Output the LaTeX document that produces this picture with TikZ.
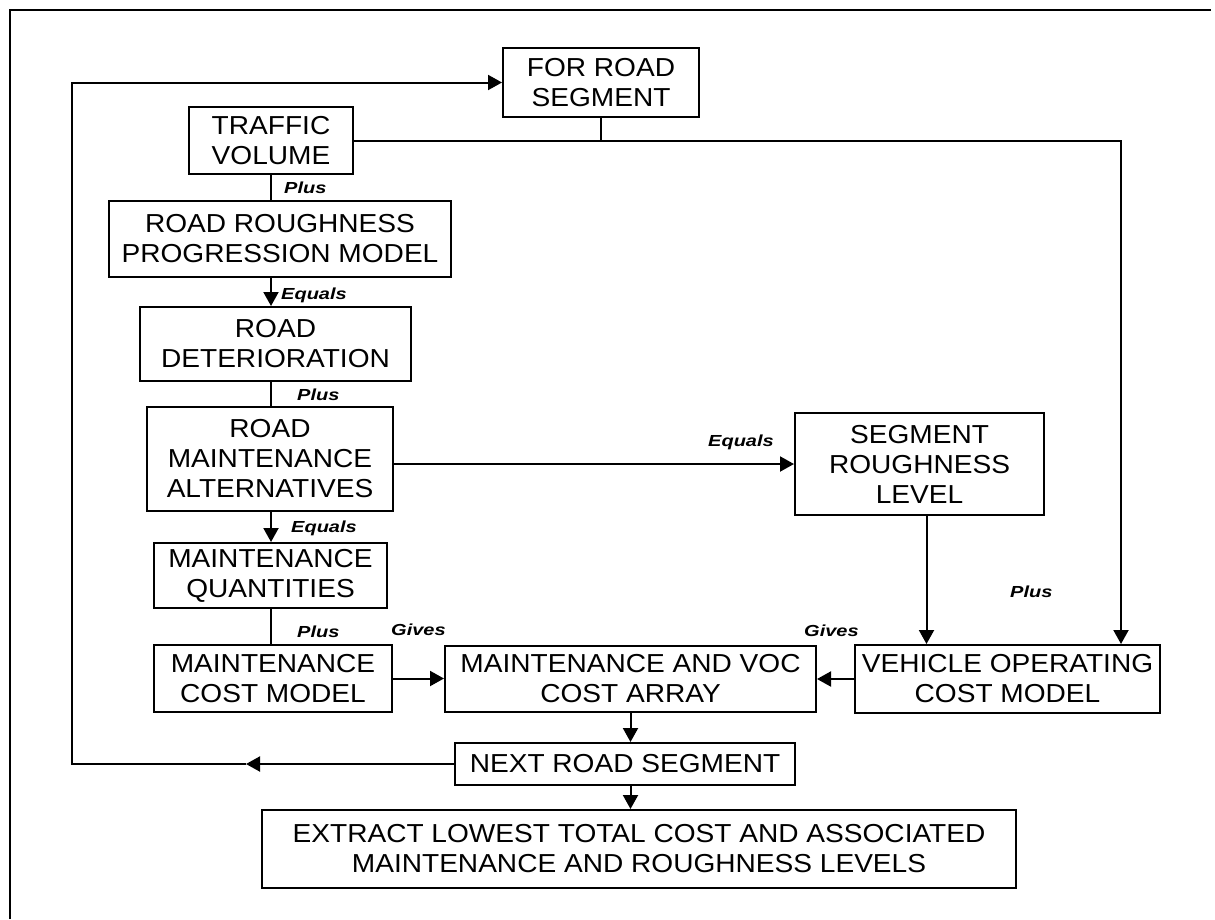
\documentclass[tikz,border=0pt]{standalone}
\usepackage{fontspec}
\setmainfont{Liberation Sans}[FakeStretch=1.08]
\newfontfamily\lblfont{Liberation Sans}[FakeStretch=1.25]
\usetikzlibrary{arrows.meta, positioning, calc}

\tikzset{
  stage/.style={draw, line width=2pt, align=center, inner sep=0pt,
    font=\fontsize{26}{30}\selectfont},
  flow/.style={line width=2pt},
  arr/.style={flow, -{Triangle[length=14pt, width=15pt]}},
  lbl/.style={anchor=west, inner sep=0pt,
    font=\lblfont\fontsize{16}{18}\selectfont\bfseries\itshape},
}

\begin{document}
\begin{tikzpicture}[x=1pt, y=-1pt]
  \useasboundingbox (0,0) rectangle (1215,919);
  % frame
  \draw[line width=2.6pt] (10,919) -- (10,10) -- (1211,10);

  % left column
  \node[stage, minimum width=196pt, minimum height=69pt] (forroad) at (601,82.5) {FOR ROAD\\SEGMENT};
  \node[stage, minimum width=164pt, minimum height=67pt] (traffic) at (271,140.5) {TRAFFIC\\VOLUME};
  \node[stage, minimum width=342pt, minimum height=76pt] (rrpm) at (280,239) {ROAD ROUGHNESS\\PROGRESSION MODEL};
  \node[stage, minimum width=271pt, minimum height=74pt] (roaddet) at (275.5,344) {ROAD\\DETERIORATION};
  \node[stage, minimum width=246pt, minimum height=104pt] (rma) at (270,459) {ROAD\\MAINTENANCE\\ALTERNATIVES};
  \node[stage, minimum width=233pt, minimum height=65pt] (mq) at (270.5,575.5) {MAINTENANCE\\QUANTITIES};
  \node[stage, minimum width=238pt, minimum height=67pt] (mcm) at (273,678.5) {MAINTENANCE\\COST MODEL};

  % right side and bottom
  \node[stage, minimum width=249pt, minimum height=102pt] (srl) at (919.5,464) {SEGMENT\\ROUGHNESS\\LEVEL};
  \node[stage, minimum width=305pt, minimum height=68pt] (voc) at (1007.5,679) {VEHICLE OPERATING\\COST MODEL};
  \node[stage, minimum width=371pt, minimum height=66pt] (array) at (630.5,679) {MAINTENANCE AND VOC\\COST ARRAY};
  \node[stage, minimum width=340pt, minimum height=42pt] (next) at (625,764) {NEXT ROAD SEGMENT};
  \node[stage, minimum width=754pt, minimum height=78pt] (extract) at (639,849) {EXTRACT LOWEST TOTAL COST AND ASSOCIATED\\MAINTENANCE AND ROUGHNESS LEVELS};

  % loop back to the top
  \coordinate (loopmid) at (246,764);
  \coordinate (loopcorner) at (72,764);
  \draw[arr] (next.west) -- (loopmid);
  \draw[arr] (loopmid) -- (loopcorner) |- (forroad.west);

  % segment feed to the VOC model
  \draw[flow] (forroad.south) -- (forroad.south |- traffic.east);
  \draw[arr] (traffic.east) -| ([xshift=-40pt]voc.north east);

  % chain down the left
  \draw[flow] (traffic.south) -- (traffic.south |- rrpm.north);
  \draw[arr] (traffic.south |- rrpm.south) -- (traffic.south |- roaddet.north);
  \draw[flow] (traffic.south |- roaddet.south) -- (traffic.south |- rma.north);
  \draw[arr] (traffic.south |- rma.south) -- (traffic.south |- mq.north);
  \draw[flow] (traffic.south |- mq.south) -- (traffic.south |- mcm.north);

  \draw[arr] (rma.east |- srl.west) -- (srl.west);
  \draw[arr] ([xshift=7pt]srl.south) -- ([xshift=7pt]srl.south |- voc.north);
  \draw[arr] (mcm.east) -- (mcm.east -| array.west);
  \draw[arr] (voc.west) -- (voc.west -| array.east);
  \draw[arr] (array.south) -- (array.south |- next.north);
  \draw[arr] (array.south |- next.south) -- (array.south |- extract.north);

  % labels
  \node[lbl] (plusa) at (284,188) {Plus};
  \node[lbl] (equalsa) at (281,295) {Equals};
  \node[lbl] (plusb) at (297,395) {Plus};
  \node[lbl] (equalsb) at (291,528) {Equals};
  \node[lbl] (plusc) at (297,632) {Plus};
  \node[lbl] (givesa) at (391,630) {Gives};
  \node[lbl] (equalsc) at (708,442) {Equals};
  \node[lbl] (givesb) at (804,631) {Gives};
  \node[lbl] (plusd) at (1010,592) {Plus};
\end{tikzpicture}
\end{document}
